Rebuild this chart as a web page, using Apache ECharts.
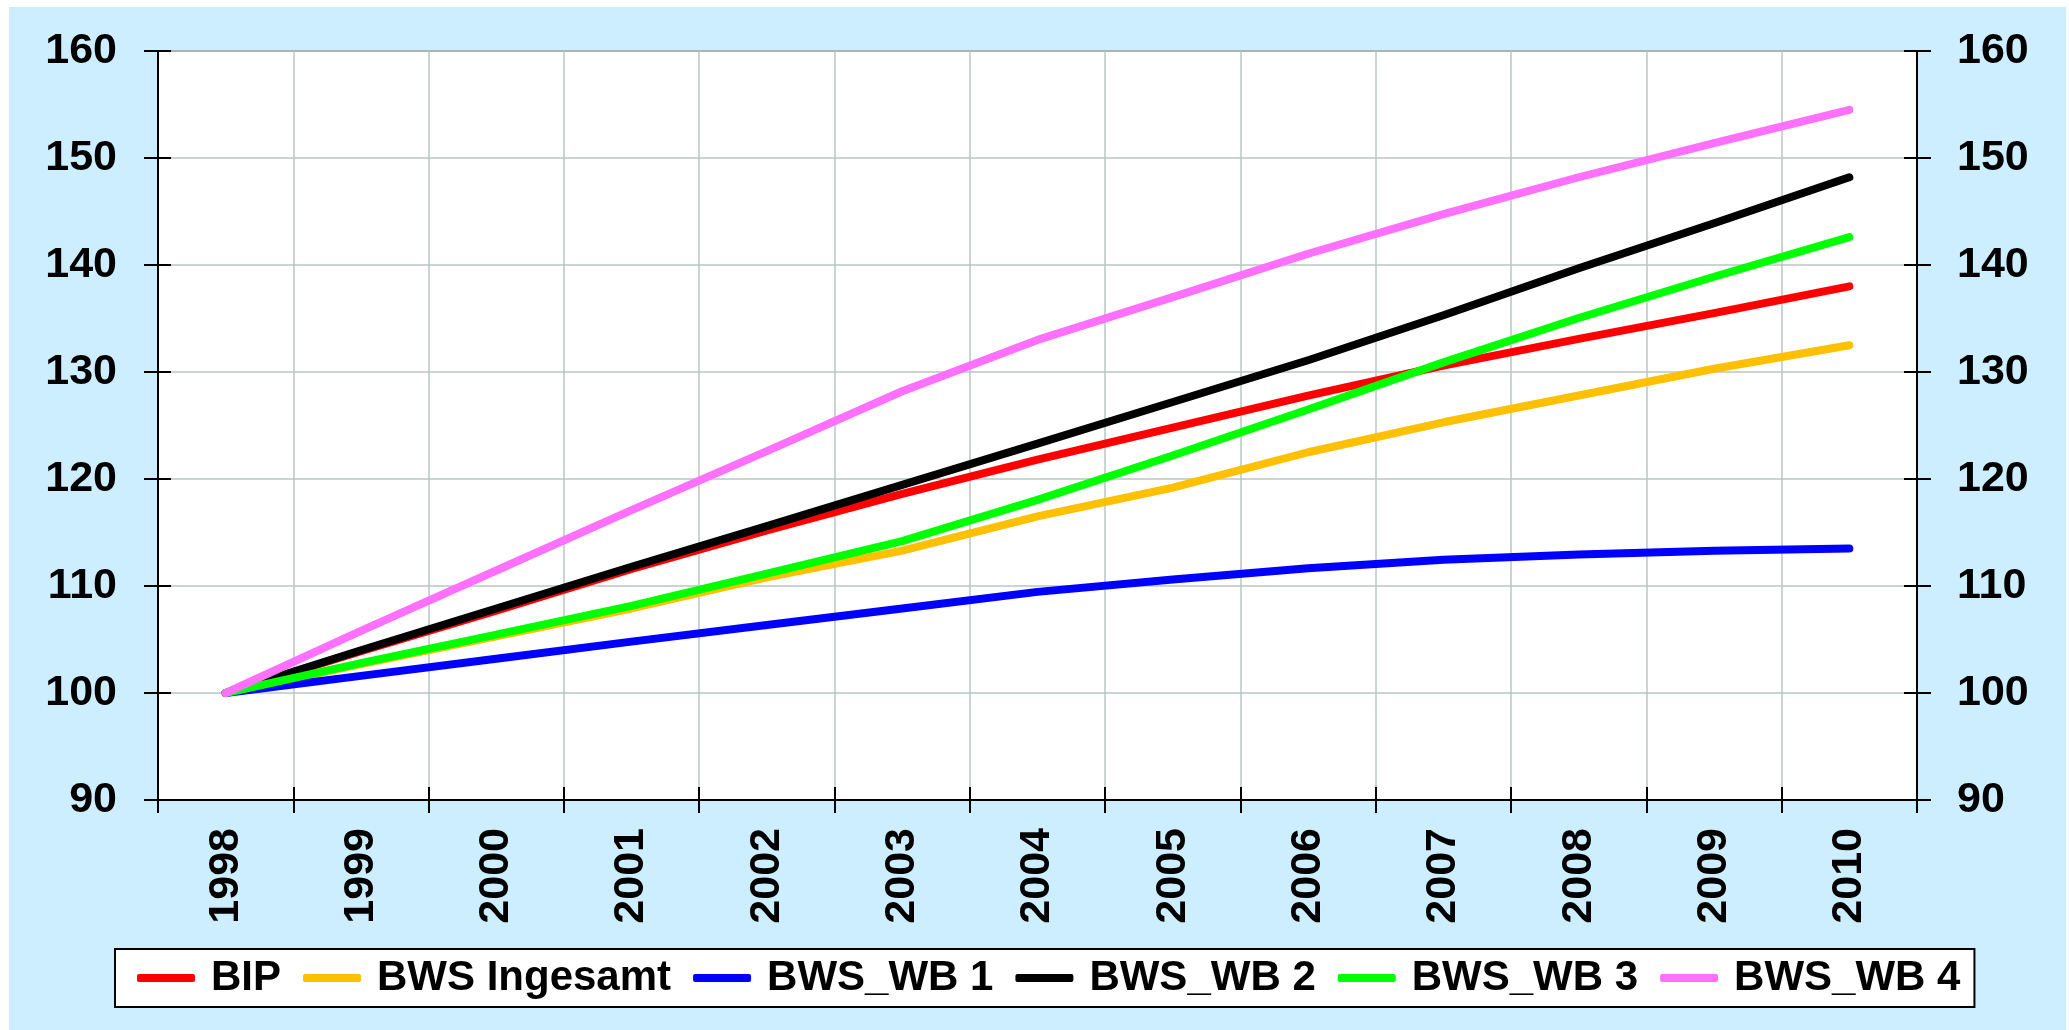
<!DOCTYPE html>
<html>
<head>
<meta charset="utf-8">
<script src="https://cdn.jsdelivr.net/npm/echarts@6/dist/echarts.min.js"></script>
<style>
html,body{margin:0;padding:0;background:#ffffff;}
#chart{width:2069px;height:1030px;}
</style>
</head>
<body>
<div id="chart"></div>
<script>
var years = ['1998','1999','2000','2001','2002','2003','2004','2005','2006','2007','2008','2009','2010'];
var bip      = [100, 103.9, 107.7, 111.6, 115.2, 118.6, 121.8, 124.8, 127.8, 130.6, 133.1, 135.5, 138.0];
var ingesamt = [100, 102.7, 105.3, 107.9, 110.8, 113.3, 116.5, 119.2, 122.5, 125.3, 127.8, 130.3, 132.5];
var wb1      = [100, 101.6, 103.2, 104.8, 106.35, 107.9, 109.45, 110.6, 111.65, 112.45, 112.95, 113.3, 113.5];
var wb2      = [100, 104.0, 107.9, 111.8, 115.6, 119.45, 123.3, 127.2, 131.1, 135.3, 139.7, 143.9, 148.2];
var wb3      = [100, 102.8, 105.45, 108.15, 111.15, 114.2, 118.05, 122.2, 126.5, 130.9, 135.05, 138.9, 142.6];
var wb4      = [100, 105.8, 111.45, 117.1, 122.6, 128.2, 133.0, 137.0, 141.05, 144.75, 148.2, 151.4, 154.5];
var seriesNames = ['BIP','BWS Ingesamt','BWS_WB 1','BWS_WB 2','BWS_WB 3','BWS_WB 4'];
var seriesColors = ['#ff0000','#ffc000','#0000ff','#000000','#00ff00','#ff70ff'];
var seriesData = [bip, ingesamt, wb1, wb2, wb3, wb4];
var yMin = 90, yMax = 160, yStep = 10;

var FONT = '"Liberation Sans", Arial, sans-serif';
var chart = echarts.init(document.getElementById('chart'), null, {renderer:'canvas'});

var tickStyle = {color:'#000', width:2};
function valueAxis(pos, labels, inside){
  return {
    type:'value', position:pos, min:yMin, max:yMax, interval:yStep,
    axisLine:{show:!inside, lineStyle:{color:'#000', width:2}},
    axisTick:{show:true, inside:inside, length:inside?13:14, lineStyle:tickStyle},
    axisLabel:{show:labels, margin:pos==='left'?41:40, fontFamily:FONT, fontWeight:'bold', fontSize:43, color:'#000'},
    splitLine:{show:(pos==='left' && !inside), lineStyle:{color:'#b8c6c4', width:1.5}}
  };
}

var option = {
  animation:false,
  graphic:[{type:'rect', z:-100, silent:true, shape:{x:9,y:7,width:2057,height:1023}, style:{fill:'#cceeff'}}],
  grid:{left:158, top:51, right:152, bottom:230, show:true, backgroundColor:'#ffffff', borderColor:'#808080', borderWidth:2},
  legend:{
    left:115, top:949,
    padding:[8,14,8,22],
    backgroundColor:'#ffffff', borderColor:'#000', borderWidth:2,
    itemWidth:58, itemHeight:8, itemGap:22,
    icon:'roundRect',
    textStyle:{fontFamily:FONT, fontWeight:'bold', fontSize:42, lineHeight:42, color:'#000', padding:[0,0,0,11]},
    data:seriesNames
  },
  xAxis:[
    {type:'category', data:years, boundaryGap:true, position:'bottom',
     axisLine:{show:true, lineStyle:{color:'#000', width:2}},
     axisTick:{show:true, interval:0, length:13, lineStyle:tickStyle},
     axisLabel:{interval:0, rotate:90, margin:28, fontFamily:FONT, fontWeight:'bold', fontSize:43, color:'#000'},
     splitLine:{show:true, interval:0, lineStyle:{color:'#b8c6c4', width:1.5}}},
    {type:'category', data:years, boundaryGap:true, position:'bottom',
     axisLine:{show:false},
     axisTick:{show:true, inside:true, interval:0, length:13, lineStyle:tickStyle},
     axisLabel:{show:false}, splitLine:{show:false}}
  ],
  yAxis:[
    valueAxis('left', true, false),
    valueAxis('right', true, false),
    valueAxis('left', false, true),
    valueAxis('right', false, true)
  ],
  series: seriesNames.map(function(n,i){
    return {
      name:n, type:'line', data:seriesData[i], xAxisIndex:0, yAxisIndex:0,
      symbol:'none', smooth:false,
      itemStyle:{color:seriesColors[i]},
      lineStyle:{color:seriesColors[i], width:8, cap:'round', join:'round'},
      z:2+i
    };
  })
};
chart.setOption(option);
</script>
</body>
</html>
